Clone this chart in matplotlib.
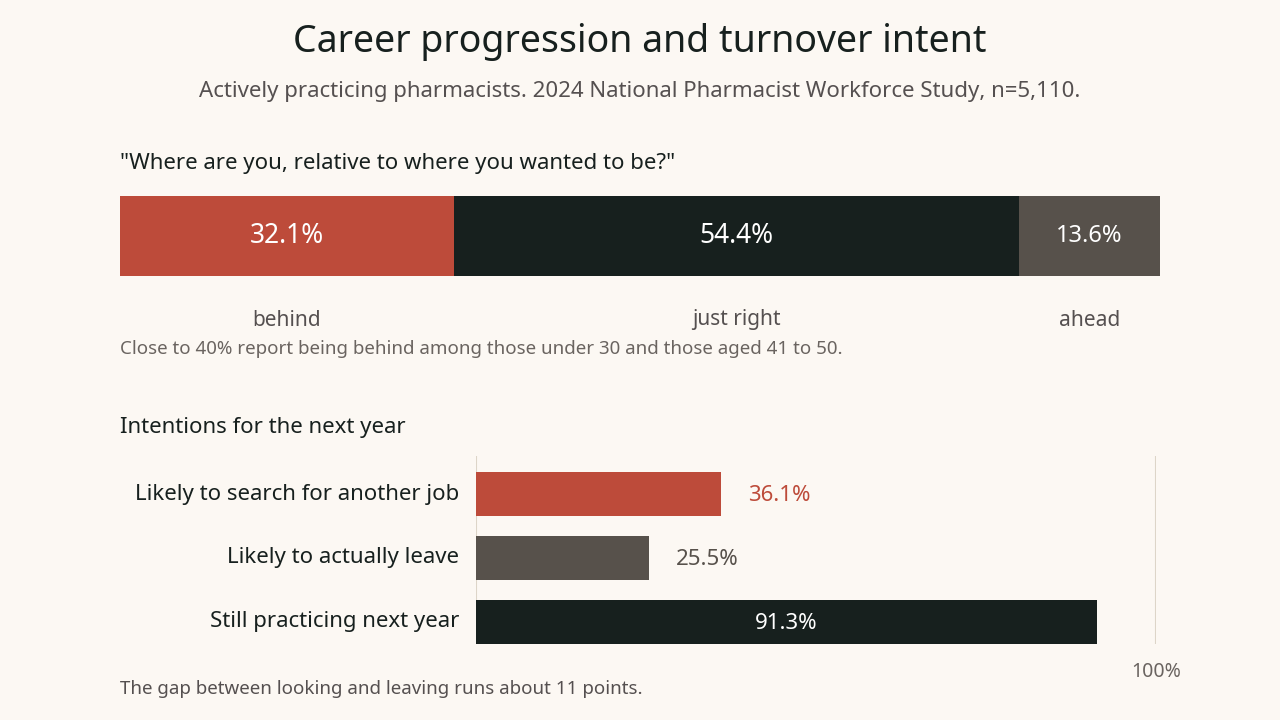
import matplotlib.pyplot as plt

plt.rcParams['font.family'] = ['Noto Sans', 'DejaVu Sans']

# data
career_labels = ['behind', 'just right', 'ahead']
career_values = [32.1, 54.4, 13.6]
career_colors = ['#bd4b3a', '#17201e', '#57514b']

intent_labels = ['Likely to search for another job', 'Likely to actually leave', 'Still practicing next year']
intent_values = [36.1, 25.5, 91.3]
intent_colors = ['#bd4b3a', '#57514b', '#17201e']

bg = '#fcf8f3'
W, H = 1280, 720

fig = plt.figure(figsize=(12.8, 7.2), dpi=100, facecolor=bg)

def px(x, y):
    return x / W, 1 - y / H

fig.text(*px(640, 42), 'Career progression and turnover intent', ha='center', va='center',
         fontsize=27, fontweight='bold', color='#17201e')
fig.text(*px(640, 92), 'Actively practicing pharmacists. 2024 National Pharmacist Workforce Study, n=5,110.',
         ha='center', va='center', fontsize=16, color='#555050')
fig.text(*px(120, 163), '"Where are you, relative to where you wanted to be?"', ha='left', va='center',
         fontsize=16, fontweight='bold', color='#17201e')

# stacked bar
ax1 = fig.add_axes([120 / W, 1 - 276 / H, 1040 / W, 80 / H])
ax1.set_facecolor(bg)
left = 0
for lab, v, c in zip(career_labels, career_values, career_colors):
    ax1.barh(0, v, left=left, color=c, height=1, edgecolor='none')
    fs = 19 if v > 20 else 17
    ax1.text(left + v / 2, 0, f'{v}%', ha='center', va='center', color='white',
             fontsize=fs, fontweight='bold')
    ax1.text(left + v / 2, -1.05, lab, ha='center', va='center', color='#555050', fontsize=15)
    left += v
ax1.set_xlim(0, sum(career_values))
ax1.set_ylim(-0.5, 0.5)
ax1.axis('off')

fig.text(*px(120, 349), 'Close to 40% report being behind among those under 30 and those aged 41 to 50.',
         ha='left', va='center', fontsize=13.5, color='#6a6460')
fig.text(*px(120, 428), 'Intentions for the next year', ha='left', va='center',
         fontsize=16, fontweight='bold', color='#17201e')

# intentions bars
ax2 = fig.add_axes([476 / W, 1 - 644 / H, 680 / W, 188 / H])
ax2.set_facecolor(bg)
ys = range(len(intent_values))
ax2.barh(list(ys), intent_values, color=intent_colors, height=0.6875, zorder=2)
for y, lab, v, c in zip(ys, intent_labels, intent_values, intent_colors):
    ax2.text(-2.5, y, lab, ha='right', va='center', fontsize=16, color='#17201e')
    if v > 80:
        ax2.text(v / 2, y + 0.03, f'{v}%', ha='center', va='center', color='white',
                 fontsize=16, fontweight='bold')
    else:
        ax2.text(v + 3.9, y + 0.03, f'{v}%', ha='left', va='center', color=c,
                 fontsize=16, fontweight='bold')
ax2.axvline(100, color='#ddd5c8', lw=1.5, zorder=1)
ax2.axvline(0, color='#ddd5c8', lw=1.5, zorder=1)
ax2.set_xlim(0, 100)
ax2.set_ylim(2.344, -0.594)
ax2.axis('off')

fig.text(*px(1156, 672), '100%', ha='center', va='center', fontsize=14, color='#6a6460')
fig.text(*px(120, 689), 'The gap between looking and leaving runs about 11 points.',
         ha='left', va='center', fontsize=13.5, color='#555050')

fig.savefig('out.png', dpi=100, facecolor=bg)
